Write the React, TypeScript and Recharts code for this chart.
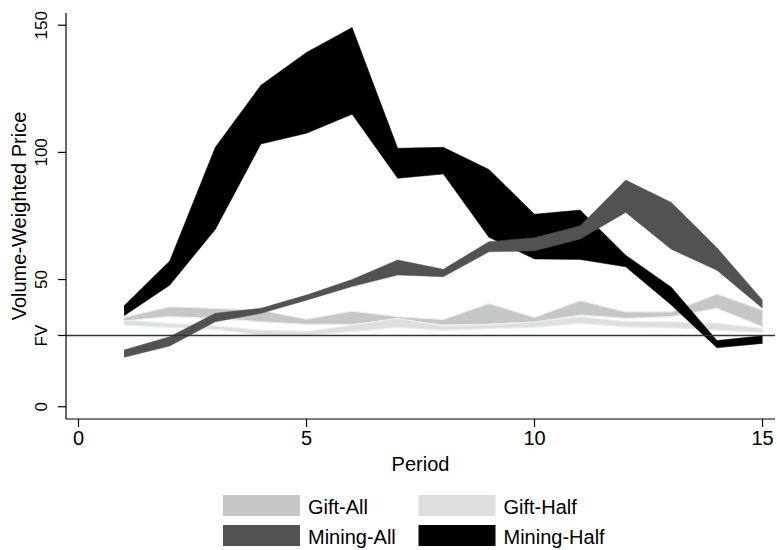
import React from 'react';
import { ComposedChart, Area, XAxis, YAxis, ReferenceLine, Legend, Label } from 'recharts';

const periods = [1, 2, 3, 4, 5, 6, 7, 8, 9, 10, 11, 12, 13, 14, 15];

const giftAllLow = [33.8, 35.4, 34.7, 33.4, 32.4, 32.4, 34.3, 32.1, 32.5, 33.3, 36, 34.7, 35.4, 38.7, 31.4];
const giftAllHigh = [35.1, 39.3, 38.7, 38, 34.4, 37.6, 35.4, 34.3, 40.6, 35.1, 41.7, 37.3, 37.3, 44.3, 38];

const giftHalfLow = [32.1, 31.2, 30.4, 28.2, 28.2, 29.5, 31.2, 30.1, 30.7, 31.2, 32.8, 31.4, 31, 30.1, 29.2];
const giftHalfHigh = [34, 32.8, 31.7, 30.1, 29.5, 32.1, 34.7, 31.7, 32.2, 33.3, 35.4, 33.4, 33.4, 32.8, 30.8];

const miningAllLow = [19.4, 23.9, 33.4, 36.7, 41.9, 47.3, 51.8, 51.1, 60.9, 61.3, 65.9, 76.4, 61.9, 53.7, 38.7];
const miningAllHigh = [22.3, 27.5, 36.7, 38.7, 43.9, 50, 57.7, 54, 64.9, 66.4, 71.1, 89.1, 80.3, 62.5, 41.9];

const miningHalfLow = [35.8, 47.8, 69.7, 103.3, 107.5, 115, 89.8, 91.5, 66.6, 58.1, 57.9, 55, 40, 23.2, 24.9];
const miningHalfHigh = [39.7, 57.3, 102, 126.4, 139.3, 149.1, 101.6, 102, 93.3, 75.7, 77.3, 59.6, 47, 26, 27.9];

const xTicks = [0, 5, 10, 15];
const yTicks = [0, 28, 50, 100, 150];
const fvValue = 28;
const fvLabel = 'FV';

const seriesNames = ['Gift-All', 'Gift-Half', 'Mining-All', 'Mining-Half'];
const seriesKeys = ['giftAll', 'giftHalf', 'miningAll', 'miningHalf'];
const seriesColors = ['#c6c6c6', '#dedede', '#525252', '#000000'];

const data = periods.map((p, i) => ({
  period: p,
  giftAll: [giftAllLow[i], giftAllHigh[i]],
  giftHalf: [giftHalfLow[i], giftHalfHigh[i]],
  miningAll: [miningAllLow[i], miningAllHigh[i]],
  miningHalf: [miningHalfLow[i], miningHalfHigh[i]],
}));

const FONT = '"Liberation Sans", Arial, Helvetica, sans-serif';

const YTick = (props: any) => {
  const { x, y, payload } = props;
  const label = payload.value === fvValue ? fvLabel : String(payload.value);
  return (
    <text
      x={x}
      y={y}
      transform={`rotate(-90, ${x}, ${y})`}
      textAnchor="middle"
      fontSize={17}
      fontFamily={FONT}
      fill="#000"
    >
      {label}
    </text>
  );
};

const XTick = (props: any) => {
  const { x, y, payload } = props;
  return (
    <text x={x} y={y + 14} textAnchor="middle" fontSize={20} fontFamily={FONT} fill="#000">
      {String(payload.value)}
    </text>
  );
};

const XLabel = (props: any) => {
  const vb = props.viewBox;
  return (
    <text x={vb.x + vb.width / 2} y={vb.y + 52} textAnchor="middle" fontSize={20} fontFamily={FONT} fill="#000">
      Period
    </text>
  );
};

const YLabel = (props: any) => {
  const vb = props.viewBox;
  const cx = vb.x + 26;
  const cy = vb.y + vb.height / 2;
  return (
    <text
      x={cx}
      y={cy}
      transform={`rotate(-90, ${cx}, ${cy})`}
      textAnchor="middle"
      fontSize={20}
      fontFamily={FONT}
      fill="#000"
    >
      Volume-Weighted Price
    </text>
  );
};

const LegendContent = () => {
  const colX = [223, 418.5];
  const rowY = [6, 36];
  return (
    <svg width={777} height={62} style={{ display: 'block' }}>
      {seriesNames.map((name, i) => {
        const col = i % 2;
        const row = Math.floor(i / 2);
        const bx = colX[col];
        const by = rowY[row];
        return (
          <g key={name}>
            <rect x={bx} y={by} width={77} height={21} fill={seriesColors[i]} />
            <text x={bx + 85} y={by + 19} fontSize={20} fontFamily={FONT} fill="#000">
              {name}
            </text>
          </g>
        );
      })}
    </svg>
  );
};

const drawOrder = [0, 1, 3, 2];

export default function App() {
  return (
    <div style={{ position: 'absolute', left: 0, top: 0, width: 777, height: 550, background: '#fff' }}>
      <ComposedChart
        width={777}
        height={550}
        data={data}
        margin={{ top: 13, right: 2, left: 0, bottom: 0 }}
      >
        <XAxis
          type="number"
          dataKey="period"
          domain={[-0.274, 15.274]}
          allowDataOverflow
          ticks={xTicks}
          height={131}
          tickSize={8}
          tickMargin={4}
          tick={<XTick />}
          axisLine={{ stroke: '#000', strokeWidth: 1.2 }}
          tickLine={{ stroke: '#000', strokeWidth: 1.2 }}
        >
          <Label content={<XLabel />} />
        </XAxis>
        <YAxis
          type="number"
          domain={[-4.83, 154.8]}
          allowDataOverflow
          ticks={yTicks}
          width={66}
          tickSize={8}
          tickMargin={11}
          tick={<YTick />}
          axisLine={{ stroke: '#000', strokeWidth: 1.2 }}
          tickLine={{ stroke: '#000', strokeWidth: 1.2 }}
        >
          <Label content={<YLabel />} />
        </YAxis>
        {drawOrder.map((i) => (
          <Area
            key={seriesKeys[i]}
            type="linear"
            dataKey={seriesKeys[i]}
            name={seriesNames[i]}
            fill={seriesColors[i]}
            fillOpacity={1}
            stroke={i < 2 ? '#e6eeee' : seriesColors[i]}
            strokeWidth={i < 2 ? 1.2 : 0.5}
            dot={false}
            activeDot={false}
            isAnimationActive={false}
          />
        ))}
        <ReferenceLine y={fvValue} stroke="#333" strokeWidth={1.5} />
        <Legend
          layout="horizontal"
          verticalAlign="middle"
          align="center"
          content={<LegendContent />}
          wrapperStyle={{ position: 'absolute', left: 0, top: 489, width: 777, height: 62 }}
        />
      </ComposedChart>
    </div>
  );
}
